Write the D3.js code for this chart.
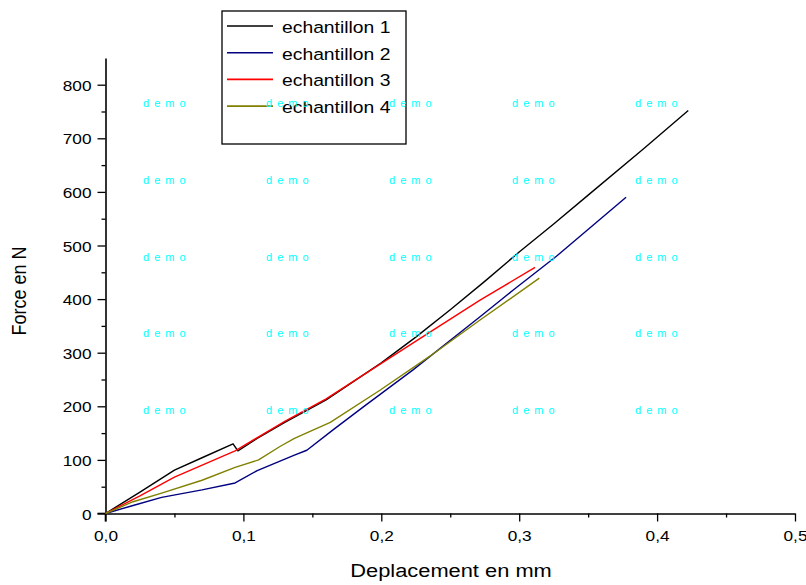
<!DOCTYPE html>
<html>
<head>
<meta charset="utf-8">
<script src="https://cdn.jsdelivr.net/npm/d3@7"></script>
<style>
  body { margin: 0; background: #fff; }
  svg { display: block; font-family: "Liberation Sans", Arial, sans-serif; }
</style>
</head>
<body>
<svg id="chart" width="806" height="585"></svg>
<script>
// Force / deplacement curves, 4 samples

const seriesNames = ["echantillon 1", "echantillon 2", "echantillon 3", "echantillon 4"];
const seriesColors = ["#000000", "#000080", "#ff0000", "#808000"];

// deplacement (mm) and force (N)
const dep1 = [0, 0.025, 0.05, 0.07, 0.0925, 0.096, 0.11, 0.13, 0.16, 0.2, 0.225, 0.25, 0.275, 0.3, 0.325, 0.35, 0.39, 0.4226];
const force1 = [0, 40, 81, 104, 130, 117, 140, 170, 212, 281, 329, 380, 433, 488, 540, 594, 680, 752];

const dep2 = [0, 0.02, 0.0407, 0.07, 0.094, 0.11, 0.137, 0.146, 0.165, 0.187, 0.223, 0.2716, 0.2957, 0.327, 0.3775];
const force2 = [0, 15, 30, 44, 57, 80, 109, 118, 156, 199, 268, 367, 417, 480, 590];

const dep3 = [0, 0.025, 0.05, 0.094, 0.13, 0.16, 0.2, 0.235, 0.2716, 0.3115];
const force3 = [0, 33, 68, 117, 172, 214, 280, 338, 398, 459];

const dep4 = [0, 0.02, 0.0407, 0.07, 0.094, 0.111, 0.1265, 0.137, 0.163, 0.199, 0.235, 0.2716, 0.3146];
const force4 = [0, 22, 38, 62, 86, 100, 125, 140, 170, 230, 293, 361, 439];

const xTicks = [0, 0.1, 0.2, 0.3, 0.4, 0.5];
const xMinorTicks = [0.05, 0.15, 0.25, 0.35, 0.45];
const yTicks = [0, 100, 200, 300, 400, 500, 600, 700, 800];
const yMinorTicks = [50, 150, 250, 350, 450, 550, 650, 750];

const xTitle = "Deplacement en mm";
const yTitle = "Force en N";
const watermark = "d e m o";

function drawChart(){
  let svg = d3.select('#chart');
  let stretch = 1.15; // text in the picture is a bit wider than normal

  let xScale = d3.scaleLinear().domain([0, 0.5]).range([105.5, 795]);
  let yScale = d3.scaleLinear().domain([0, 850]).range([513.5, 57.9]);

  // Axes, Origin style: outward ticks
  let xAxis = d3.axisBottom(xScale)
    .tickValues(xTicks)
    .tickSize(8)
    .tickSizeOuter(0)
    .tickFormat(d => d3.format(".1f")(d).replace(".", ","));
  let gx = svg.append('g')
    .attr("transform", `translate(0,${yScale(0)})`)
    .call(xAxis);
  svg.append('g')
    .attr("transform", `translate(0,${yScale(0)})`)
    .call(d3.axisBottom(xScale).tickValues(xMinorTicks).tickSize(4).tickSizeOuter(0).tickFormat(""))
    .select(".domain").remove();

  let yAxis = d3.axisLeft(yScale)
    .tickValues(yTicks)
    .tickSize(8)
    .tickSizeOuter(0);
  let gy = svg.append('g')
    .attr("transform", `translate(${xScale(0)},0)`)
    .call(yAxis);
  svg.append('g')
    .attr("transform", `translate(${xScale(0)},0)`)
    .call(d3.axisLeft(yScale).tickValues(yMinorTicks).tickSize(4).tickSizeOuter(0).tickFormat(""))
    .select(".domain").remove();

  svg.selectAll('.domain').attr("stroke", "#000").attr("stroke-width", 1.6);
  svg.selectAll('.tick line').attr("stroke", "#000").attr("stroke-width", 1.3);

  gx.selectAll('.tick text')
    .attr("y", 28).attr("dy", null)
    .attr("font-size", 15).attr("font-family", null).attr("fill", "#000")
    .attr("transform", `scale(${stretch},1)`);
  gy.selectAll('.tick text')
    .attr("x", -14 / stretch).attr("dy", 5.5)
    .attr("font-size", 15).attr("font-family", null).attr("fill", "#000")
    .attr("transform", `scale(${stretch},1)`);

  // small overhang of the axis lines past the origin
  svg.append('line')
    .attr("x1", xScale(0) - 8).attr("x2", xScale(0))
    .attr("y1", yScale(0)).attr("y2", yScale(0))
    .attr("stroke", "#000").attr("stroke-width", 1.6);
  svg.append('line')
    .attr("x1", xScale(0)).attr("x2", xScale(0))
    .attr("y1", yScale(0)).attr("y2", yScale(0) + 8)
    .attr("stroke", "#000").attr("stroke-width", 1.6);

  // Axis titles
  svg.append('text')
    .attr("transform", `translate(451,577) scale(${stretch},1)`)
    .attr("text-anchor", "middle")
    .attr("font-size", 19)
    .text(xTitle);
  svg.append('text')
    .attr("transform", `translate(26,291) scale(${stretch},1) rotate(-90)`)
    .attr("text-anchor", "middle")
    .attr("font-size", 18)
    .text(yTitle);

  // Curves
  let allDep = [dep1, dep2, dep3, dep4];
  let allForce = [force1, force2, force3, force4];
  let line = d3.line()
    .x(d => xScale(d[0]))
    .y(d => yScale(d[1]));
  allDep.forEach((dep, i) => {
    let points = dep.map((d, j) => [d, allForce[i][j]]);
    svg.append('path')
      .datum(points)
      .attr("fill", "none")
      .attr("stroke", seriesColors[i])
      .attr("stroke-width", 1.4)
      .attr("stroke-linejoin", "round")
      .attr("d", line);
  });

  // Legend
  let legend = svg.append('g');
  legend.append('rect')
    .attr("x", 222).attr("y", 11)
    .attr("width", 184).attr("height", 133)
    .attr("fill", "#fff")
    .attr("stroke", "#000").attr("stroke-width", 1.3);
  seriesNames.forEach((name, i) => {
    let ly = 26 + i * 26.7;
    legend.append('line')
      .attr("x1", 227).attr("x2", 273)
      .attr("y1", ly).attr("y2", ly)
      .attr("stroke", seriesColors[i]).attr("stroke-width", 1.6);
    legend.append('text')
      .attr("transform", `translate(282,${ly + 7}) scale(${stretch},1)`)
      .attr("font-size", 16.8)
      .text(name);
  });

  // demo watermark grid on top
  for (let r = 0; r < 5; r++){
    for (let c = 0; c < 5; c++){
      svg.append('text')
        .attr("x", 143 + c * 123)
        .attr("y", 107 + r * 76.8)
        .attr("font-size", 11)
        .attr("letter-spacing", 1)
        .attr("fill", "#00ffff")
        .text(watermark);
    }
  }
}

drawChart();
</script>
</body>
</html>
